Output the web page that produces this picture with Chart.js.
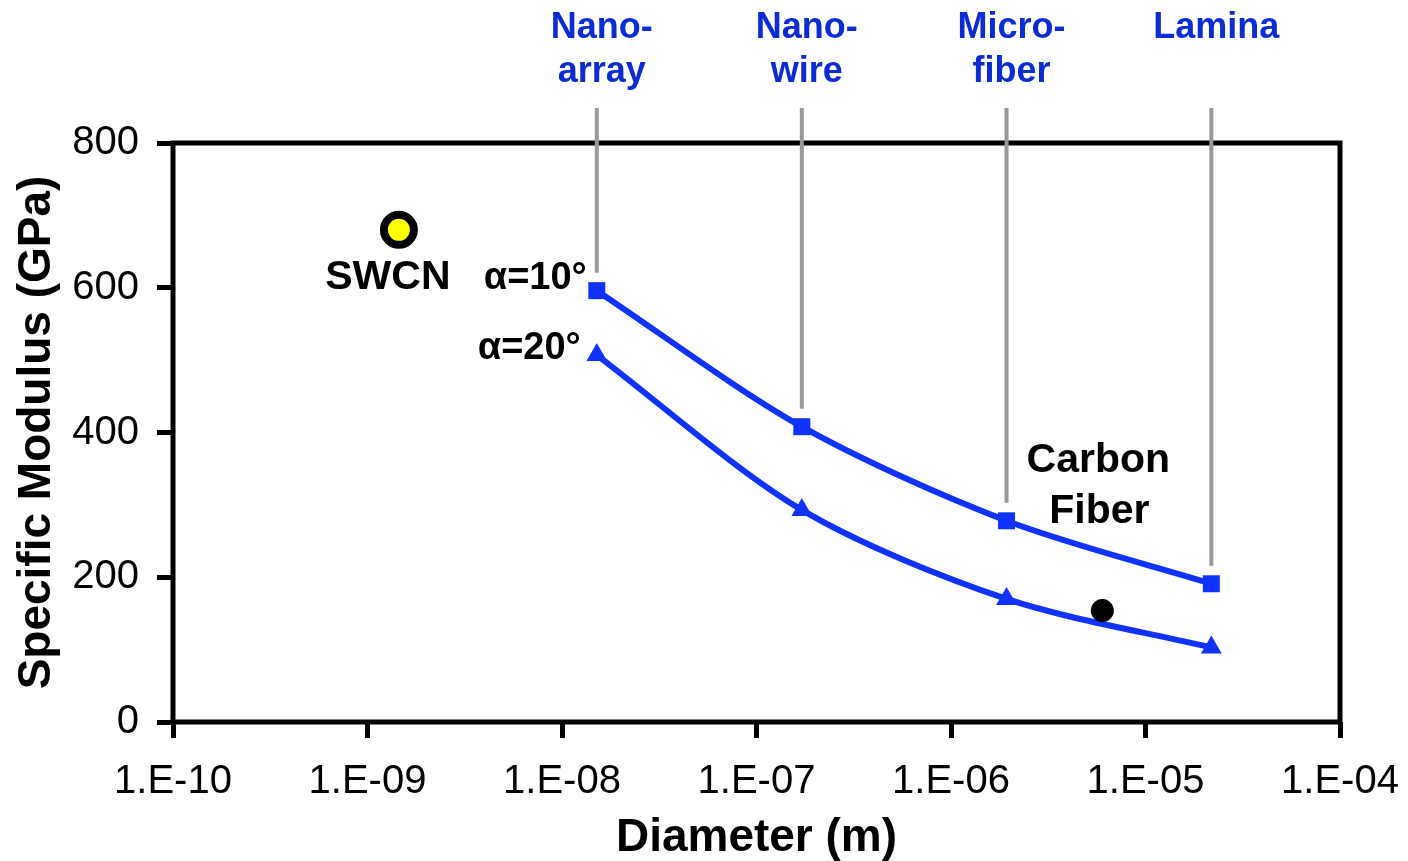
<!DOCTYPE html>
<html>
<head>
<meta charset="utf-8">
<script src="https://cdn.jsdelivr.net/npm/chart.js@4"></script>
<style>
  html, body { margin: 0; padding: 0; background: #fff; }
</style>
</head>
<body>
<canvas id="modulusChart" width="1408" height="861"></canvas>
<script>
// values
var diameters = [1.51e-8, 1.71e-7, 1.93e-6, 2.18e-5];
var alpha10 = [596, 408, 278, 191];
var alpha20 = [507, 293, 170, 103];
var swcnPoint = [1.45e-9, 680];
var carbonFiberPoint = [6.0e-6, 154];
var structureLabels = [["Nano-", "array"], ["Nano-", "wire"], ["Micro-", "fiber"], ["Lamina"]];
var xTicks = [1e-10, 1e-9, 1e-8, 1e-7, 1e-6, 1e-5, 1e-4];
var yTicks = [0, 200, 400, 600, 800];

var FONT = '"Liberation Sans", Arial, sans-serif';
var BLUE = '#0f32ff';
var LABEL_BLUE = '#0b2bd4';

function toPoints(xs, ys) {
    return xs.map(function (x, i) { return { x: x, y: ys[i] }; });
}

function sciLabel(v) {
    var e = Math.round(Math.log10(v));
    var a = Math.abs(e);
    return '1.E' + (e < 0 ? '-' : '+') + (a < 10 ? '0' + a : a);
}

var overlay = {
    id: 'overlay',
    beforeDatasetsDraw: function (chart) {
        var a = chart.chartArea, ctx = chart.ctx;
        ctx.save();
        ctx.lineWidth = 5;
        ctx.strokeStyle = '#000';
        ctx.strokeRect(a.left, a.top, a.right - a.left, a.bottom - a.top);
        ctx.restore();
    },
    afterDraw: function (chart) {
        var ctx = chart.ctx, xs = chart.scales.x, ys = chart.scales.y;
        ctx.save();
        // grey guide lines from the labels down to the alpha=10 points
        ctx.strokeStyle = '#999';
        ctx.lineWidth = 4;
        diameters.forEach(function (d, i) {
            var px = xs.getPixelForValue(d);
            var py = ys.getPixelForValue(alpha10[i]);
            ctx.beginPath();
            ctx.moveTo(px, 108);
            ctx.lineTo(px, py - 18);
            ctx.stroke();
        });
        // structure labels on top
        ctx.fillStyle = LABEL_BLUE;
        ctx.font = 'bold 36px ' + FONT;
        ctx.textAlign = 'center';
        ctx.textBaseline = 'alphabetic';
        diameters.forEach(function (d, i) {
            var px = xs.getPixelForValue(d) + 5;
            structureLabels[i].forEach(function (line, j) {
                ctx.fillText(line, px, 38 + j * 44);
            });
        });
        // annotations
        ctx.fillStyle = '#000';
        ctx.font = 'bold 41px ' + FONT;
        var sx = xs.getPixelForValue(swcnPoint[0]);
        var sy = ys.getPixelForValue(swcnPoint[1]);
        ctx.fillText('SWCN', sx - 11, sy + 59);
        var cx = xs.getPixelForValue(carbonFiberPoint[0]);
        var cy = ys.getPixelForValue(carbonFiberPoint[1]);
        ctx.fillText('Carbon', cx - 4, cy - 139);
        ctx.fillText('Fiber', cx - 3, cy - 88);
        ctx.textAlign = 'right';
        ctx.font = 'bold 38px ' + FONT;
        var ax = xs.getPixelForValue(diameters[0]);
        ctx.fillText('\u03B1=10\u00B0', ax - 10, ys.getPixelForValue(alpha10[0]) - 2);
        ctx.fillText('\u03B1=20\u00B0', ax - 16, ys.getPixelForValue(alpha20[0]) + 4);
        ctx.restore();
    }
};

var chart = new Chart(document.getElementById('modulusChart').getContext('2d'), {
    type: 'scatter',
    data: {
        datasets: [{
            label: 'SWCN',
            data: [{ x: swcnPoint[0], y: swcnPoint[1] }],
            pointStyle: 'circle',
            pointRadius: 15,
            pointBorderWidth: 8,
            backgroundColor: '#ffff00',
            borderColor: '#000',
            order: 0
        }, {
            label: 'Carbon Fiber',
            data: [{ x: carbonFiberPoint[0], y: carbonFiberPoint[1] }],
            pointStyle: 'circle',
            pointRadius: 11.5,
            pointBorderWidth: 0,
            backgroundColor: '#000',
            borderColor: '#000',
            order: 1
        }, {
            label: 'alpha=10',
            data: toPoints(diameters, alpha10),
            showLine: true,
            tension: 0.3,
            borderColor: BLUE,
            borderWidth: 6,
            pointStyle: 'rect',
            pointRadius: 12,
            pointBorderWidth: 0,
            backgroundColor: BLUE,
            order: 2
        }, {
            label: 'alpha=20',
            data: toPoints(diameters, alpha20),
            showLine: true,
            tension: 0.3,
            borderColor: BLUE,
            borderWidth: 6,
            pointStyle: 'triangle',
            pointRadius: 12,
            pointBorderWidth: 0,
            backgroundColor: BLUE,
            order: 3
        }]
    },
    plugins: [overlay],
    options: {
        responsive: false,
        animation: false,
        clip: false,
        layout: { padding: { left: 14, right: 68, top: 143, bottom: 0 } },
        plugins: {
            legend: { display: false },
            tooltip: { enabled: false }
        },
        scales: {
            x: {
                type: 'logarithmic',
                min: xTicks[0],
                max: xTicks[xTicks.length - 1],
                afterBuildTicks: function (scale) {
                    scale.ticks = xTicks.map(function (v) { return { value: v }; });
                },
                afterFit: function (scale) {
                    scale.height = 139;
                    scale.paddingLeft = 0;
                    scale.paddingRight = 0;
                },
                border: { display: false },
                grid: {
                    drawOnChartArea: false,
                    drawTicks: true,
                    tickLength: 16,
                    tickWidth: 5,
                    tickColor: '#000'
                },
                ticks: {
                    autoSkip: false,
                    maxRotation: 0,
                    padding: 20,
                    color: '#000',
                    font: { family: FONT, size: 40 },
                    callback: function (v) { return sciLabel(v); }
                },
                title: {
                    display: true,
                    text: 'Diameter (m)',
                    color: '#000',
                    font: { family: FONT, size: 46, weight: 'bold', lineHeight: 1 },
                    padding: { top: 0, bottom: 0 }
                }
            },
            y: {
                min: 0,
                max: 800,
                afterBuildTicks: function (scale) {
                    scale.ticks = yTicks.map(function (v) { return { value: v }; });
                },
                afterFit: function (scale) {
                    scale.width = 159;
                    scale.paddingTop = 0;
                    scale.paddingBottom = 0;
                },
                border: { display: false },
                grid: {
                    drawOnChartArea: false,
                    drawTicks: true,
                    tickLength: 16,
                    tickWidth: 5,
                    tickColor: '#000'
                },
                ticks: {
                    padding: 18,
                    color: '#000',
                    font: { family: FONT, size: 40 }
                },
                title: {
                    display: true,
                    text: 'Specific Modulus (GPa)',
                    color: '#000',
                    font: { family: FONT, size: 46, weight: 'bold', lineHeight: 1 },
                    padding: { top: 0, bottom: 0 }
                }
            }
        }
    }
});
</script>
</body>
</html>
